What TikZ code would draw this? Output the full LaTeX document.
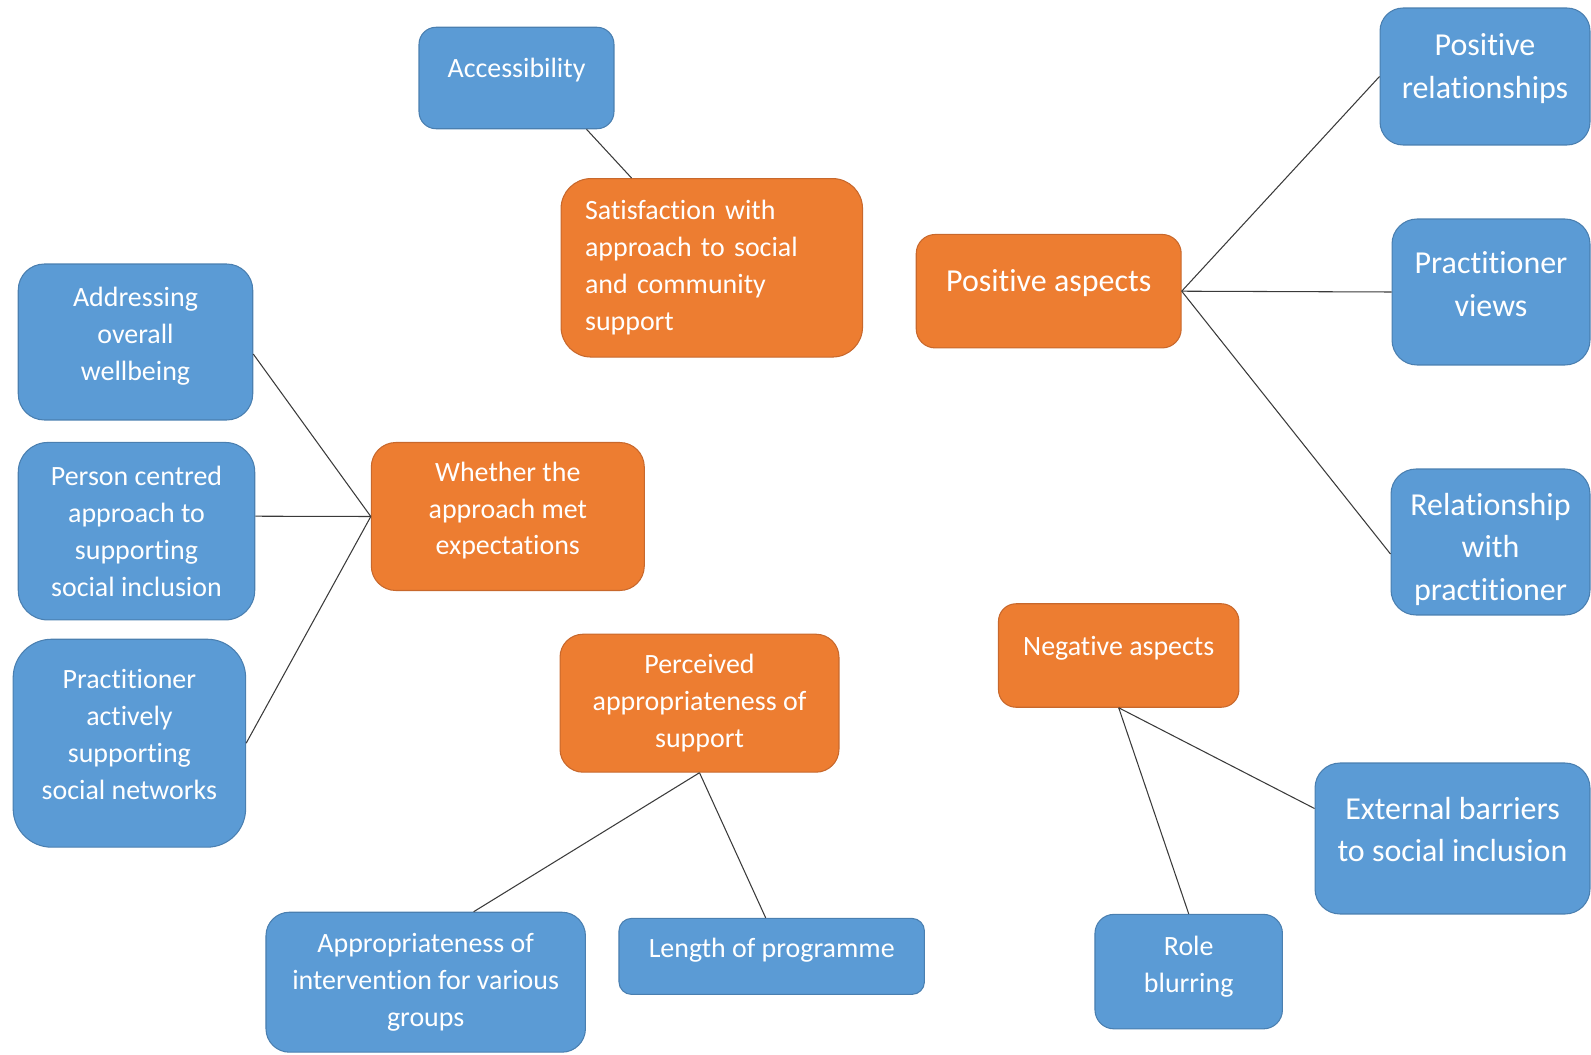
\documentclass[tikz,border=0pt]{standalone}
\usepackage{fontspec}
\setmainfont{Carlito}[Ligatures=NoCommon]
\usetikzlibrary{calc}
\definecolor{boxblue}{HTML}{5B9BD5}
\definecolor{boxblueedge}{HTML}{4A7FB0}
\definecolor{boxorange}{HTML}{ED7D31}
\definecolor{boxorangeedge}{HTML}{C8682C}
\definecolor{linkgray}{HTML}{3A3A3A}

\begin{document}
\begin{tikzpicture}[x=0.02cm, y=-0.02cm,
        subbox/.style={draw=boxblueedge, fill=boxblue, text=white, align=center, line width=0.6pt,
            inner sep=2pt, font=\fontsize{15.9}{21}\selectfont},
        bigsub/.style={subbox, font=\fontsize{18.2}{24.2}\selectfont},
        themebox/.style={subbox, draw=boxorangeedge, fill=boxorange},
        lift/.style={text depth=#1},
        link/.style={draw=linkgray, line width=0.6pt}]
    \useasboundingbox (0,0) rectangle (1591,1054);
    % orange themes
    \node[themebox, minimum height=3.57cm, rounded corners=0.6cm, align=left, text width=5.07cm, inner xsep=0.48cm] (sat) at (711.8,267.8) {Satisfaction with\\approach to social\\and community\\support};
    \node[themebox, bigsub, draw=boxorangeedge, fill=boxorange, minimum width=5.3cm, minimum height=2.27cm, rounded corners=0.38cm, lift=12pt] (pos) at (1048.7,291.2) {Positive aspects};
    \node[themebox, minimum width=5.46cm, minimum height=2.96cm, rounded corners=0.49cm, lift=9.3pt] (wh) at (507.8,516.5) {Whether the\\approach met\\expectations};
    \node[themebox, minimum width=5.58cm, minimum height=2.76cm, rounded corners=0.46cm] (per) at (699.5,703.2) {Perceived\\appropriateness of\\support};
    \node[themebox, minimum width=4.81cm, minimum height=2.07cm, rounded corners=0.35cm, lift=10.4pt] (neg) at (1118.7,655.5) {Negative aspects};
    % blue sub-themes
    \node[subbox, minimum width=3.9cm, minimum height=2.03cm, rounded corners=0.34cm, lift=11.5pt] (acc) at (516.5,78) {Accessibility};
    \node[bigsub, minimum width=4.2cm, minimum height=2.74cm, rounded corners=0.46cm, lift=12pt] (prel) at (1485,76.5) {Positive\\relationships};
    \node[bigsub, minimum width=3.96cm, minimum height=2.92cm, rounded corners=0.5cm, lift=9.2pt] (pview) at (1491,292) {Practitioner\\views};
    \node[bigsub, minimum width=3.98cm, minimum height=2.92cm, rounded corners=0.5cm] (rwp) at (1490.5,542) {\rule{0pt}{21pt}Relationship\\with\\practitioner};
    \node[subbox, minimum width=4.69cm, minimum height=3.12cm, rounded corners=0.52cm, lift=9.3pt] (addr) at (135.5,342) {Addressing\\overall\\wellbeing};
    \node[subbox, minimum width=4.73cm, minimum height=3.55cm, rounded corners=0.59cm] (pers) at (136.5,531.2) {Person centred\\approach to\\supporting\\social inclusion};
    \node[subbox, minimum width=4.65cm, minimum height=4.16cm, rounded corners=0.77cm, lift=10.4pt] (pact) at (129.4,743.2) {Practitioner\\actively\\supporting\\social networks};
    \node[subbox, minimum width=6.39cm, minimum height=2.8cm, rounded corners=0.47cm] (app) at (425.7,982.2) {Appropriateness of\\intervention for various\\groups};
    \node[subbox, minimum width=6.11cm, minimum height=1.52cm, rounded corners=0.25cm, lift=9.3pt] (len) at (771.7,956.4) {Length of programme};
    \node[bigsub, minimum width=5.5cm, minimum height=3.02cm, rounded corners=0.5cm, lift=10.4pt] (ext) at (1452.5,838.5) {External barriers\\to social inclusion};
    \node[subbox, minimum width=3.75cm, minimum height=2.29cm, rounded corners=0.38cm, lift=8.1pt] (role) at (1188.7,971.6) {Role\\blurring};
    % connectors
    \draw[link] ($(acc.south)+(70,0)$) -- ($(sat.north west)+(71,0)$);
    \draw[link] (pos.east) -- (prel.west);
    \draw[link] (pos.east) -- (pview.west);
    \draw[link] (pos.east) -- ($(rwp.west)+(0,12)$);
    \draw[link] (wh.west) -- ($(addr.east)+(0,12)$);
    \draw[link] (wh.west) -- ($(pers.east)+(0,-15)$);
    \draw[link] (wh.west) -- (pact.east);
    \draw[link] (per.south) -- ($(app.north)+(48,0)$);
    \draw[link] (per.south) -- ($(len.north)+(-6,0)$);
    \draw[link] (neg.south) -- ($(ext.west)+(0,-30)$);
    \draw[link] (neg.south) -- (role.north);
\end{tikzpicture}
\end{document}
